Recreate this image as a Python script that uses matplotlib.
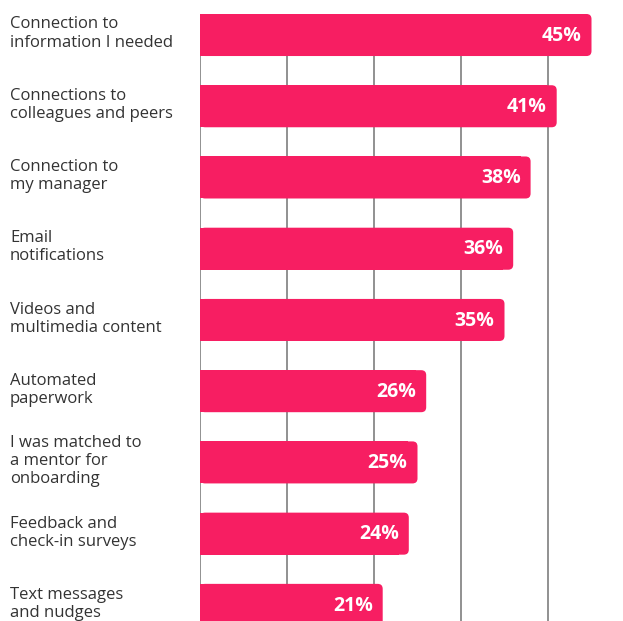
import matplotlib.pyplot as plt
from matplotlib.patches import FancyBboxPatch, Rectangle

labels = [
    "Connection to\ninformation I needed",
    "Connections to\ncolleagues and peers",
    "Connection to\nmy manager",
    "Email\nnotifications",
    "Videos and\nmultimedia content",
    "Automated\npaperwork",
    "I was matched to\na mentor for\nonboarding",
    "Feedback and\ncheck-in surveys",
    "Text messages\nand nudges",
]
values = [45, 41, 38, 36, 35, 26, 25, 24, 21]
grid_ticks = [10, 20, 30, 40]

pink = "#F71E62"
text_col = "#333333"
grid_col = "#888888"

plt.rcParams["font.family"] = ["Open Sans", "DejaVu Sans"]

fig = plt.figure(figsize=(6.23, 6.21), dpi=100)
ax_left = 200 / 623
ax_top = 1 - 14 / 621
ax_bottom = -19.5 / 621
ax = fig.add_axes([ax_left, ax_bottom, 1 - ax_left, ax_top - ax_bottom])

xmax = 423 / 8.7
ax.set_xlim(0, xmax)
ax.set_ylim(8.5, -0.295)

bar_h = 0.59
# px per unit in each direction, used to keep corner radius round
px_x = 8.7
px_y = 71.3
r = 5 / px_x
aspect = px_x / px_y

for i, v in enumerate(values):
    y0 = i - bar_h / 2
    # square left part, rounded right end
    ax.add_patch(Rectangle((0, y0), v - 2 * r, bar_h, facecolor=pink,
                           edgecolor="none", zorder=3))
    ax.add_patch(FancyBboxPatch((0, y0), v, bar_h,
                                boxstyle=f"round,pad=0,rounding_size={r}",
                                mutation_aspect=aspect,
                                facecolor=pink, edgecolor="none", zorder=3))
    ax.text(v - 10 / px_x, i + 0.01, f"{v}%", ha="right", va="center",
            color="white", fontsize=14, fontweight="bold", zorder=4)
    fig.text(10 / 623, 1 - (33.5 + i * 71.3) / 621, labels[i],
             ha="left", va="center", color=text_col, fontsize=12,
             fontweight="medium", linespacing=1.18)

for t in grid_ticks:
    ax.axvline(t, color=grid_col, lw=1.3, zorder=1)
ax.axvline(0, color=grid_col, lw=1.3, zorder=1)

ax.set_xticks([])
ax.set_yticks([])
for s in ax.spines.values():
    s.set_visible(False)

fig.savefig("out.png", dpi=100)
